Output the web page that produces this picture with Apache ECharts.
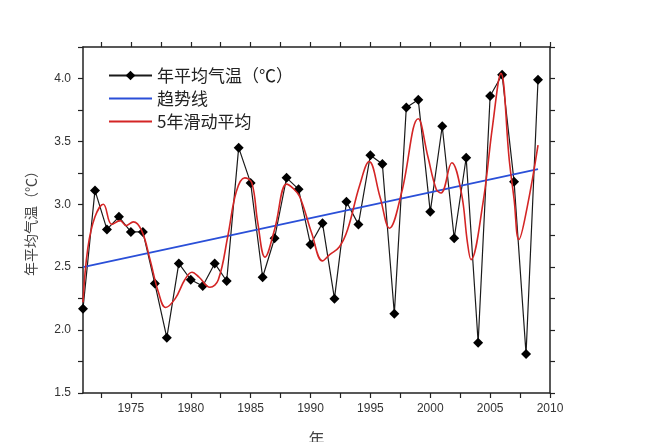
<!DOCTYPE html>
<html>
<head>
<meta charset="utf-8">
<script src="https://cdn.jsdelivr.net/npm/echarts@6/dist/echarts.min.js"></script>
<style>html,body{margin:0;padding:0;background:#fff}#c{width:646px;height:442px}</style>
</head>
<body>
<div id="c"></div>
<script>
var years = [1971,1972,1973,1974,1975,1976,1977,1978,1979,1980,1981,1982,1983,1984,1985,1986,1987,1988,1989,1990,1991,1992,1993,1994,1995,1996,1997,1998,1999,2000,2001,2002,2003,2004,2005,2006,2007,2008,2009];
var annualTemp = [2.17,3.11,2.80,2.90,2.78,2.78,2.37,1.94,2.53,2.40,2.35,2.53,2.39,3.45,3.17,2.42,2.73,3.21,3.12,2.68,2.85,2.25,3.02,2.84,3.39,3.32,2.13,3.77,3.83,2.94,3.62,2.73,3.37,1.90,3.86,4.03,3.18,1.81,3.99];
var trendYears = [1971, 2009];
var trendValues = [2.50, 3.28];
var smoothYears = [1971,1971.4,1972,1972.7,1973.4,1974.1,1974.6,1975.2,1975.9,1976.6,1977.3,1977.9,1978.7,1979.5,1980.1,1980.7,1981.6,1982.3,1983.1,1983.8,1984.5,1985.1,1985.6,1986.2,1987,1988,1988.5,1989.1,1990.1,1991,1991.6,1992.4,1993.1,1994.1,1994.9,1995.8,1996.6,1997.6,1999,1999.8,2000.5,2000.9,2001.8,2002.6,2003.1,2003.4,2004.4,2005.2,2005.9,2006.6,2007,2007.4,2008.1,2009];
var smoothValues = [2.22,2.65,2.90,3.00,2.84,2.87,2.83,2.86,2.79,2.56,2.30,2.18,2.25,2.40,2.46,2.42,2.34,2.40,2.75,3.10,3.21,3.17,2.85,2.58,2.80,3.16,3.13,3.06,2.77,2.55,2.60,2.66,2.80,3.15,3.34,3.06,2.81,3.09,3.68,3.38,3.12,3.09,3.33,3.09,2.70,2.56,3.01,3.62,4.04,3.35,3.04,2.72,2.98,3.47];
var xTickLabels = [1975,1980,1985,1990,1995,2000,2005,2010];
var xTicks = [1972.5,1975,1977.5,1980,1982.5,1985,1987.5,1990,1992.5,1995,1997.5,2000,2002.5,2005,2007.5,2010];
var yTickLabels = [1.5,2.0,2.5,3.0,3.5,4.0];
var yTicks = [1.5,1.75,2.0,2.25,2.5,2.75,3.0,3.25,3.5,3.75,4.0,4.25];

var names = ['年平均气温（℃）','趋势线','5年滑动平均'];
function pairs(xs, ys){ return xs.map(function(x,i){return [x, ys[i]];}); }
var axisColor = '#222';
var chart = echarts.init(document.getElementById('c'));
chart.setOption({
  animation: false,
  backgroundColor: '#fff',
  grid: {left: 83, right: 96, top: 47, bottom: 49, outerBoundsMode: 'none', containLabel: false},
  legend: {
    orient: 'vertical', left: 103, top: 62, itemWidth: 43, itemHeight: 12, itemGap: 6,
    data: [
      {name: names[0]},
      {name: names[1], itemStyle: {opacity: 0}},
      {name: names[2], itemStyle: {opacity: 0}}
    ],
    textStyle: {fontSize: 17, color: '#222', fontFamily: 'Noto Sans CJK SC'}
  },
  xAxis: [{
    type: 'value', min: 1971, max: 2010,
    name: '年', nameLocation: 'middle', nameGap: 38,
    nameTextStyle: {fontSize: 16, color: '#444', fontFamily: 'Noto Sans CJK SC'},
    axisLine: {onZero: false, lineStyle: {color: axisColor, width: 1.5}},
    axisTick: {customValues: xTicks, length: 5, lineStyle: {color: axisColor, width: 1.2}},
    axisLabel: {customValues: xTickLabels, margin: 10, fontSize: 12, color: '#333', fontFamily: 'Liberation Sans',
      formatter: function(v){return String(Math.round(v));}},
    splitLine: {show: false}
  },{
    type: 'value', min: 1971, max: 2010, position: 'top',
    axisLine: {onZero: false, lineStyle: {color: axisColor, width: 1.5}},
    axisTick: {customValues: xTicks, length: 5, lineStyle: {color: axisColor, width: 1.2}},
    axisLabel: {show: false},
    splitLine: {show: false}
  }],
  yAxis: [{
    type: 'value', min: 1.5, max: 4.25,
    name: '年平均气温（℃）', nameLocation: 'middle', nameGap: 45, nameRotate: 90,
    nameTextStyle: {fontSize: 14, color: '#444', fontFamily: 'Noto Sans CJK SC'},
    axisLine: {onZero: false, lineStyle: {color: axisColor, width: 1.5}},
    axisTick: {customValues: yTicks, length: 5, lineStyle: {color: axisColor, width: 1.2}},
    axisLabel: {customValues: yTickLabels, margin: 12, fontSize: 12, color: '#333', fontFamily: 'Liberation Sans',
      formatter: function(v){return v.toFixed(1);}},
    splitLine: {show: false}
  },{
    type: 'value', min: 1.5, max: 4.25, position: 'right',
    axisLine: {onZero: false, lineStyle: {color: axisColor, width: 1.5}},
    axisTick: {customValues: yTicks, length: 5, lineStyle: {color: axisColor, width: 1.2}},
    axisLabel: {show: false},
    splitLine: {show: false}
  }],
  series: [{
    name: names[0], type: 'line', data: pairs(years, annualTemp),
    symbol: 'diamond', symbolSize: 10,
    lineStyle: {color: '#1a1a1a', width: 1.2},
    itemStyle: {color: '#000'}, z: 2
  },{
    name: names[1], type: 'line', data: pairs(trendYears, trendValues),
    symbol: 'none', lineStyle: {color: '#2a4fd8', width: 1.8},
    itemStyle: {color: '#2a4fd8'}, z: 3
  },{
    name: names[2], type: 'line', data: pairs(smoothYears, smoothValues),
    symbol: 'none', smooth: 0.4, lineStyle: {color: '#d42525', width: 1.6},
    itemStyle: {color: '#d42525'}, z: 4
  }]
});
</script>
</body>
</html>
